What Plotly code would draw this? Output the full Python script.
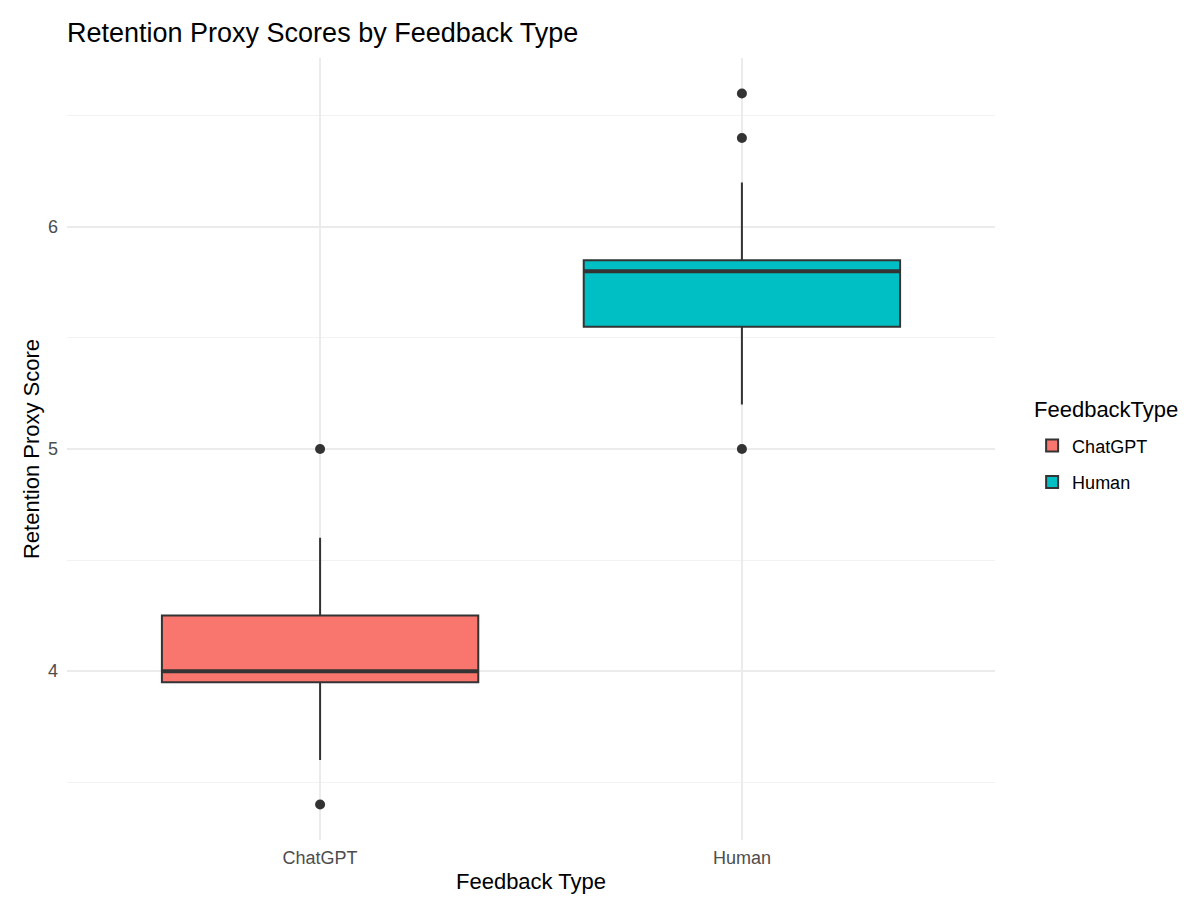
import plotly.graph_objects as go

# --- DATOS ---
categorias = ["ChatGPT", "Human"]
colores = ["#F8766D", "#00BFC4"]
q1 = [3.95, 5.55]
mediana = [4.0, 5.8]
q3 = [4.25, 5.85]
bigote_inf = [3.6, 5.2]
bigote_sup = [4.6, 6.2]
atipicos = {
    "ChatGPT": [5.0, 3.4],
    "Human": [6.6, 6.4, 5.0],
}

FUENTE = "Liberation Sans, Arial, sans-serif"
LINEA = "#333333"
ANCHO_CAJA = 0.75

# la página deja 8px de margen en el body, así que la figura es algo menor
ANCHO, ALTO = 1192, 907

fig = go.Figure()

for i, cat in enumerate(categorias):
    # caja principal
    fig.add_trace(go.Box(
        x=[cat], q1=[q1[i]], median=[mediana[i]], q3=[q3[i]],
        lowerfence=[bigote_inf[i]], upperfence=[bigote_sup[i]],
        name=cat, legendgroup=cat,
        fillcolor=colores[i],
        line=dict(color=LINEA, width=2),
        whiskerwidth=0, width=ANCHO_CAJA,
        boxpoints=False, hoverinfo="skip",
    ))
    # mediana más gruesa (como en ggplot)
    fig.add_trace(go.Box(
        x=[cat], q1=[mediana[i]], median=[mediana[i]], q3=[mediana[i]],
        lowerfence=[mediana[i]], upperfence=[mediana[i]],
        legendgroup=cat, showlegend=False,
        fillcolor="rgba(0,0,0,0)",
        line=dict(color=LINEA, width=4),
        whiskerwidth=0, width=ANCHO_CAJA,
        boxpoints=False, hoverinfo="skip",
    ))
    # puntos atípicos
    fig.add_trace(go.Scatter(
        x=[cat] * len(atipicos[cat]), y=atipicos[cat],
        mode="markers", legendgroup=cat, showlegend=False,
        marker=dict(color=LINEA, size=10),
    ))

fig.update_layout(
    width=ANCHO, height=ALTO,
    plot_bgcolor="white", paper_bgcolor="white",
    font=dict(family=FUENTE, color="black"),
    title=dict(text="Retention Proxy Scores by Feedback Type",
               x=59 / ANCHO, xref="container", xanchor="left",
               y=1 - 25 / ALTO, yref="container", yanchor="middle",
               font=dict(size=27, color="black")),
    margin=dict(l=59, r=205, t=50, b=75),
    boxmode="overlay",
    legend=dict(font=dict(size=18), x=1.04, xanchor="left", y=0.481, yanchor="middle",
                itemsizing="constant", itemwidth=30),
    annotations=[dict(text="FeedbackType", xref="paper", yref="paper",
                      x=1.04, y=0.551, xanchor="left", yanchor="middle",
                      showarrow=False, font=dict(size=22, color="black"))],
)

fig.update_xaxes(
    type="category", range=[-0.6, 1.6], automargin=False,
    title=dict(text="Feedback Type", font=dict(size=22), standoff=6),
    tickfont=dict(size=18, color="#4D4D4D"), ticklabelstandoff=5,
    showgrid=True, gridcolor="#EBEBEB", gridwidth=1.5,
    zeroline=False, showline=False, ticks="",
)
fig.update_yaxes(
    range=[3.24, 6.76], tickvals=[4, 5, 6], automargin=False,
    minor=dict(tickvals=[3.5, 4.5, 5.5, 6.5], showgrid=True, gridcolor="#F2F2F2", gridwidth=1),
    title=dict(text="Retention Proxy Score", font=dict(size=22), standoff=2),
    tickfont=dict(size=18, color="#4D4D4D"), ticklabelstandoff=8,
    showgrid=True, gridcolor="#EBEBEB", gridwidth=1.5,
    zeroline=False, showline=False, ticks="",
)

fig.write_html("out.html")
